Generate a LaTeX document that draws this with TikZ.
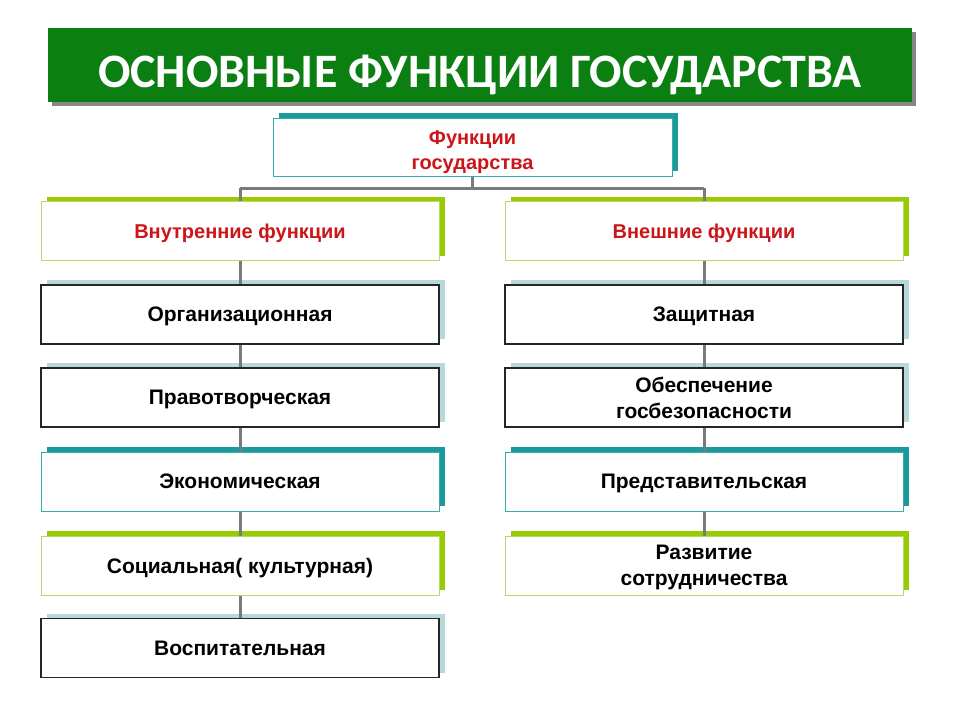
\documentclass[tikz,border=0pt]{standalone}
\usepackage{fontspec}
\setmainfont{Liberation Sans}
\newfontfamily\titlefont{Carlito}
\definecolor{titlegreen}{HTML}{0B7F12}
\definecolor{lime}{HTML}{99CC00}
\definecolor{limeedge}{HTML}{B9D86A}
\definecolor{tealc}{HTML}{1A9A9A}
\definecolor{tealedge}{HTML}{3AABAB}
\definecolor{paleblue}{HTML}{B7D7DB}
\definecolor{headred}{HTML}{CC1518}
\definecolor{linegray}{HTML}{7A7A7A}
\tikzset{
  box/.style={draw, fill=white, minimum width=398pt, minimum height=59pt,
    inner sep=0pt, align=center, text depth=-1pt, font=\fontsize{21}{26}\selectfont\bfseries},
  redtext/.style={text=headred, font=\fontsize{20}{25}\selectfont\bfseries},
  limebox/.style={box, draw=limeedge, line width=1pt,
    preaction={fill=lime, transform canvas={xshift=6pt,yshift=5pt}}},
  tealbox/.style={box, draw=tealedge, line width=1pt,
    preaction={fill=tealc, transform canvas={xshift=6pt,yshift=5pt}}},
  plainbox/.style={box, draw=black!85, line width=1.3pt,
    preaction={fill=paleblue, transform canvas={xshift=6pt,yshift=5pt}}},
  conn/.style={draw=linegray, line width=3pt},
}
\begin{document}
\begin{tikzpicture}[x=1pt,y=-1pt]
\useasboundingbox (0,0) rectangle (960,720);
\fill[white] (0,0) rectangle (960,720);
% title
\node[fill=linegray!90, minimum width=864pt, minimum height=74pt, inner sep=0pt] (titleshadow) at (484,69) {};
\node[fill=titlegreen, minimum width=864pt, minimum height=74pt, inner sep=0pt,
  text height=44pt, text depth=0pt,
  text=white, font=\titlefont\fontsize{48}{52}\selectfont\bfseries] (title) at (480,65) {ОСНОВНЫЕ ФУНКЦИИ ГОСУДАРСТВА};
% connectors
\coordinate (hl) at (240,188);
\coordinate (hr) at (704,188);
% top
\node[tealbox, redtext, minimum width=399pt, minimum height=58pt, text height=44pt, text depth=0pt] (top) at (472.5,147) {Функции\\государства};
% left column
\node[limebox, redtext] (in) at (240,231) {Внутренние функции};
\node[plainbox] (l2) at (240,314.5) {Организационная};
\node[plainbox] (l3) at (240,397.5) {Правотворческая};
\node[tealbox] (l4) at (240,481.5) {Экономическая};
\node[limebox] (l5) at (240,565.5) {Социальная( культурная)};
\node[plainbox] (l6) at (240,648) {Воспитательная};
% right column
\node[limebox, redtext] (ex) at (704,231) {Внешние функции};
\node[plainbox] (r2) at (704,314.5) {Защитная};
\node[plainbox] (r3) at (704,397.5) {Обеспечение\\госбезопасности};
\node[tealbox] (r4) at (704,481.5) {Представительская};
\node[limebox] (r5) at (704,565.5) {Развитие\\сотрудничества};
% lines
\draw[conn] (top.south) -- (top.south |- hl);
\draw[conn] (hl) -- (hr);
\draw[conn] (hl) -- (in.north);
\draw[conn] (hr) -- (ex.north);
\draw[conn] (in.south) -- (l2.north);
\draw[conn] (l2.south) -- (l3.north);
\draw[conn] (l3.south) -- (l4.north);
\draw[conn] (l4.south) -- (l5.north);
\draw[conn] (l5.south) -- (l6.north);
\draw[conn] (ex.south) -- (r2.north);
\draw[conn] (r2.south) -- (r3.north);
\draw[conn] (r3.south) -- (r4.north);
\draw[conn] (r4.south) -- (r5.north);
\end{tikzpicture}
\end{document}
